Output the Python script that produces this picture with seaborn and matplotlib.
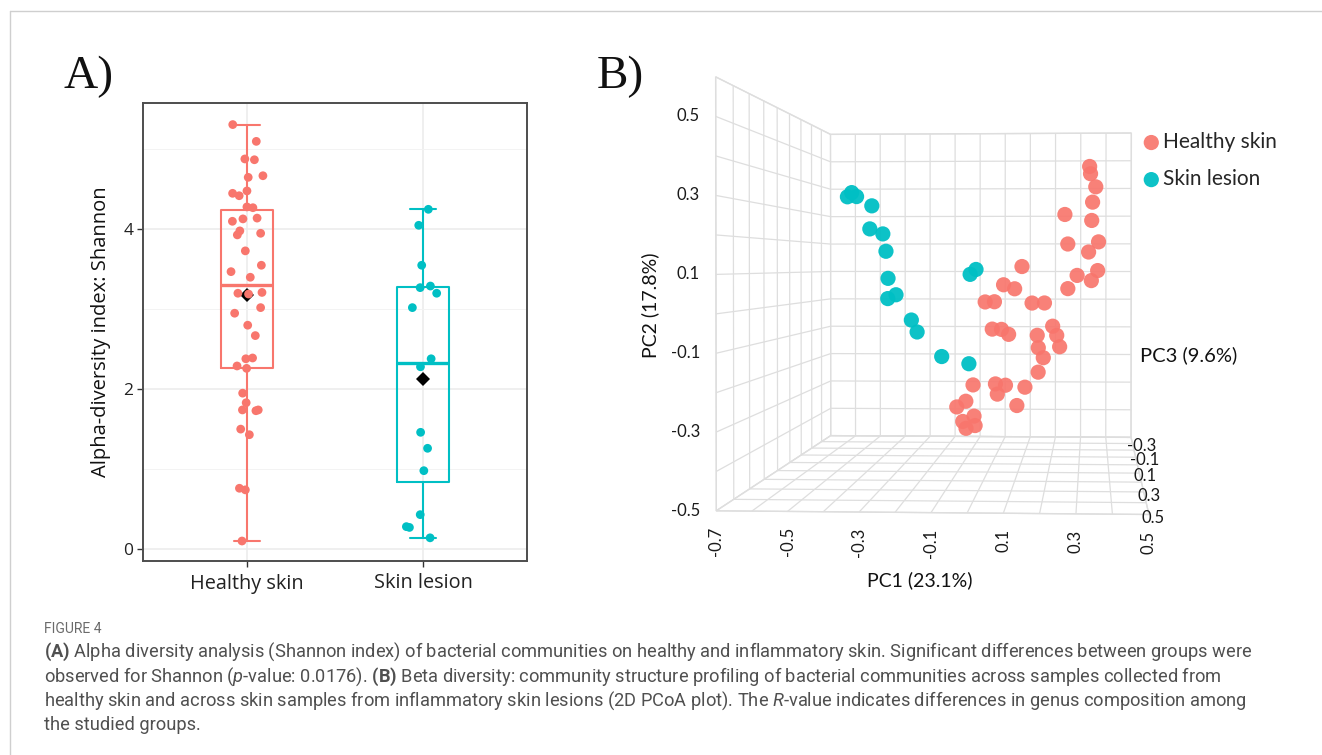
import matplotlib
matplotlib.use("Agg")
import matplotlib.pyplot as plt
from matplotlib.lines import Line2D
from mpl_toolkits.mplot3d import proj3d
import numpy as np
import pandas as pd
import seaborn as sns

W, H = 1322, 755

# ---------------- panel A: Shannon index per sample ----------------
GROUPS = ["Healthy skin", "Skin lesion"]
HEALTHY_SHANNON = [5.31, 5.10, 4.88, 4.87, 4.67, 4.65, 4.48, 4.45, 4.42, 4.28,
                   4.27, 4.14, 4.13, 4.10, 3.98, 3.95, 3.93, 3.73, 3.55, 3.47,
                   3.40, 3.21, 3.20, 3.19, 3.02, 2.95, 2.80, 2.67, 2.39, 2.38,
                   2.29, 2.26, 1.95, 1.83, 1.74, 1.74, 1.73, 1.50, 1.43, 0.76,
                   0.74, 0.10]
LESION_SHANNON = [4.25, 4.05, 3.55, 3.29, 3.27, 3.20, 3.02, 2.38, 2.28, 1.46,
                  1.26, 0.98, 0.43, 0.28, 0.27, 0.14]
Y_TICKS = [0, 2, 4]

# ---------------- panel B: PCoA coordinates ----------------
HEALTHY_PC1 = [0.336, 0.339, 0.356, 0.346, 0.250, 0.343, 0.263, 0.367, 0.333, 0.109,
               0.364, 0.296, 0.047, 0.075, 0.266, 0.342, -0.028, 0.028, 0.143, 0.179,
               0.021, 0.040, 0.054, 0.217, 0.226, 0.232, 0.167, 0.164, 0.175, 0.170,
               -0.056, 0.008, 0.064, 0.026, 0.111, -0.065, -0.111, -0.067, -0.075, -0.049,
               -0.095, 0.101]
HEALTHY_PC2 = [0.425, 0.413, 0.354, 0.316, 0.284, 0.255, 0.188, 0.197, 0.162, 0.119,
               0.106, 0.093, 0.063, 0.048, 0.054, 0.076, 0.006, 0.015, 0.007, 0.003,
               -0.066, -0.074, -0.097, -0.057, -0.092, -0.136, -0.084, -0.130, -0.171, -0.193,
               -0.245, -0.255, -0.232, -0.273, -0.265, -0.280, -0.313, -0.358, -0.340, -0.370,
               -0.397, -0.292]
HEALTHY_PC3 = [0.05, -0.04, 0.14, 0.05, -0.04, 0.14, 0.05, -0.04, 0.14, 0.05,
               -0.04, 0.14, 0.05, -0.04, 0.14, 0.05, -0.04, 0.14, 0.05, -0.04,
               0.14, 0.05, -0.04, 0.14, 0.05, -0.04, 0.14, 0.05, -0.04, 0.14,
               0.05, -0.04, 0.14, 0.05, -0.04, 0.14, 0.05, -0.04, 0.14, 0.05,
               -0.04, 0.14]
LESION_PC1 = [-0.482, -0.497, -0.422, -0.399, -0.433, -0.336, -0.351, -0.369,
              -0.320, -0.317, -0.287, -0.224, -0.162, -0.085, -0.051, -0.046]
LESION_PC2 = [0.334, 0.355, 0.327, 0.306, 0.239, 0.216, 0.166, 0.081,
              0.024, 0.032, -0.052, -0.075, -0.158, -0.191, 0.096, 0.110]
LESION_PC3 = [0.05, -0.04, 0.14, 0.05, -0.04, 0.14, 0.05, -0.04,
              0.14, 0.05, -0.04, 0.14, 0.05, -0.04, 0.14, 0.05]

PC1_GRID = [-0.7, -0.6, -0.5, -0.4, -0.3, -0.2, -0.1, 0.0, 0.1, 0.2, 0.3, 0.4, 0.5]
PC2_GRID = [-0.5, -0.4, -0.3, -0.2, -0.1, 0.0, 0.1, 0.2, 0.3, 0.4, 0.5, 0.6]
PC3_GRID = [-0.4, -0.3, -0.2, -0.1, 0.0, 0.1, 0.2, 0.3, 0.4, 0.5]
PC1_LABELS = [-0.7, -0.5, -0.3, -0.1, 0.1, 0.3, 0.5]
PC2_LABELS = [-0.5, -0.3, -0.1, 0.1, 0.3, 0.5]
PC3_LABELS = [-0.3, -0.1, 0.1, 0.3, 0.5]

CAPTION_LINES = [
    r"$\mathbf{(A)}$ Alpha diversity analysis (Shannon index) of bacterial communities on healthy and inflammatory skin. Significant differences between groups were",
    r"observed for Shannon ($\mathit{p}$-value: 0.0176). $\mathbf{(B)}$ Beta diversity: community structure profiling of bacterial communities across samples collected from",
    r"healthy skin and across skin samples from inflammatory skin lesions (2D PCoA plot). The $\mathit{R}$-value indicates differences in genus composition among",
    "the studied groups.",
]

SALMON = "#F8766D"
TEAL = "#00BFC4"
PALETTE = {GROUPS[0]: SALMON, GROUPS[1]: TEAL}
GRID3D = "#dedede"
A_FONT = "Open Sans"
B_FONT = "Lato"
CAP_FONT = "Roboto"

sns.set_theme(style="white")
plt.rcParams["font.family"] = [A_FONT, "DejaVu Sans"]
plt.rcParams["mathtext.fontset"] = "custom"
plt.rcParams["mathtext.rm"] = CAP_FONT
plt.rcParams["mathtext.it"] = CAP_FONT + ":italic"
plt.rcParams["mathtext.bf"] = CAP_FONT + ":bold"


def fx(px):
    return px / W


def fy(py):
    return 1 - py / H


fig = plt.figure(figsize=(W / 100, H / 100), dpi=100)

# ---------------- panel A ----------------
df_a = pd.DataFrame({
    "group": [GROUPS[0]] * len(HEALTHY_SHANNON) + [GROUPS[1]] * len(LESION_SHANNON),
    "shannon": HEALTHY_SHANNON + LESION_SHANNON,
})

axA = fig.add_axes([fx(143), fy(561), 384 / W, 458 / H])
sns.boxplot(data=df_a, x="group", y="shannon", hue="group", palette=PALETTE,
            fill=False, width=0.3, linewidth=1.5, showfliers=False,
            medianprops={"linewidth": 2.4}, legend=False, ax=axA)
np.random.seed(7)
sns.stripplot(data=df_a, x="group", y="shannon", hue="group", palette=PALETTE,
              jitter=0.095, size=6.3, legend=False, ax=axA, zorder=3)
sns.pointplot(data=df_a, x="group", y="shannon", estimator="mean", errorbar=None,
              color="black", markers="D", linestyles="none", markersize=6.8,
              markeredgewidth=0, ax=axA)

axA.set_xlim(-0.59, 1.59)
axA.set_ylim(-0.15, 5.58)
axA.set_yticks(Y_TICKS)
axA.set_yticks([1, 3, 5], minor=True)
axA.grid(True, which="major", axis="both", color="#EBEBEB", linewidth=1.1)
axA.grid(True, which="minor", axis="y", color="#F3F3F3", linewidth=0.7)
axA.set_axisbelow(True)
axA.tick_params(which="minor", length=0)
axA.tick_params(axis="both", which="major", length=4, width=1, color="#333333",
                labelcolor="#222222", pad=3, bottom=True, left=True)
axA.tick_params(axis="x", labelsize=14.3, pad=5)
axA.tick_params(axis="y", labelsize=12.5)
axA.set_xlabel("")
axA.set_ylabel("Alpha-diversity index: Shannon", fontsize=14.5, color="#111111", labelpad=9)
for sp in axA.spines.values():
    sp.set_color("#4d4d4d")
    sp.set_linewidth(1.4)

# ---------------- panel B (3D PCoA) ----------------
axB = fig.add_axes([fx(674), fy(575), 557 / W, 557 / H], projection="3d",
                   computed_zorder=False)
axB.patch.set_alpha(0)
axB.scatter(HEALTHY_PC1, HEALTHY_PC3, HEALTHY_PC2, s=120, color=SALMON, alpha=0.92,
            depthshade=False, edgecolors="none", label=GROUPS[0])
axB.scatter(LESION_PC1, LESION_PC3, LESION_PC2, s=120, color=TEAL, alpha=0.95,
            depthshade=False, edgecolors="none", label=GROUPS[1])

axB.set_proj_type("persp", focal_length=0.649)
axB.set_box_aspect((1.0, 2.0, 1.006), zoom=1.52)
axB.view_init(elev=0.71, azim=-86.17)
axB.set_xlim(-0.7, 0.5)
axB.set_ylim(0.5, -0.4)
axB.set_zlim(-0.5, 0.6)
axB.set_xticks(PC1_GRID)
axB.set_yticks(PC3_GRID)
axB.set_zticks(PC2_GRID)
axB.set_xlabel("")
axB.set_ylabel("")
axB.set_zlabel("")
for axis in (axB.xaxis, axB.yaxis, axB.zaxis):
    axis.set_major_formatter(plt.NullFormatter())
    axis.set_tick_params(labelbottom=False, bottom=False)
    axis.set_pane_color((1, 1, 1, 1))
    axis.pane.set_edgecolor(GRID3D)
    axis.pane.set_linewidth(1.0)
    axis.line.set_visible(False)
    axis._axinfo["grid"].update(color=GRID3D, linewidth=0.9)
    axis._axinfo["tick"]["inward_factor"] = 0.0
    axis._axinfo["tick"]["outward_factor"] = 0.0
axB.grid(True)

# tick labels: project the 3D anchor through the axes' own projection
proj_m = axB.get_proj()
tick_kw = dict(fontsize=12, family=B_FONT, color="#1a1a1a", transform=axB.transData)


def tick_label(x, y, z, s, **kw):
    px, py, _ = proj3d.proj_transform(x, y, z, proj_m)
    axB.text2D(float(px), float(py), s, **tick_kw, **kw)


for v in PC2_LABELS:
    tick_label(-0.745, 0.5, v, f"{v:.1f}", ha="right", va="center")
for v in PC1_LABELS:
    tick_label(v, 0.5, -0.54, f"{v:.1f}", rotation=90, ha="center", va="top")
for v in PC3_LABELS:
    tick_label(0.48, v, -0.51, f"{v:.1f}", ha="left", va="center")

axB.legend(loc="upper left", bbox_to_anchor=(fx(1144), fy(132)),
           bbox_transform=fig.transFigure, frameon=False, handlelength=0.7,
           handletextpad=0.2, borderpad=0, borderaxespad=0, labelspacing=0.82,
           prop={"family": B_FONT, "size": 15})

fig.text(fx(920), fy(580), "PC1 (23.1%)", ha="center", va="center",
         fontsize=14, family=B_FONT, color="#111111")
fig.text(fx(650), fy(305), "PC2 (17.8%)", ha="center", va="center", rotation=90,
         fontsize=14, family=B_FONT, color="#111111")
fig.text(fx(1140), fy(355), "PC3 (9.6%)", ha="left", va="center",
         fontsize=14.5, family=B_FONT, color="#111111")

# panel letters
fig.text(fx(64), fy(88), "A)", family="Liberation Serif", fontsize=34,
         va="baseline", color="#111111")
fig.text(fx(597), fy(88), "B)", family="Liberation Serif", fontsize=34,
         va="baseline", color="#111111")

# ---------------- caption ----------------
fig.text(fx(44), fy(633), "FIGURE 4", family=CAP_FONT, fontsize=10,
         color="#6b6b6b", va="baseline")
renderer = fig.canvas.get_renderer()
probe = fig.text(fx(44), fy(657), CAPTION_LINES[0], family=CAP_FONT, fontsize=12,
                 color="#505050", va="baseline")
cap_size = 12 * 1203 / probe.get_window_extent(renderer=renderer).width
probe.set_fontsize(cap_size)
for i, line in enumerate(CAPTION_LINES[1:], start=1):
    fig.text(fx(44), fy(657 + 24.5 * i), line, family=CAP_FONT, fontsize=cap_size,
             color="#505050", va="baseline")

# thin page frame
fig.add_artist(Line2D([fx(10), 1], [fy(11), fy(11)], color="#cfcfcf", lw=1))
fig.add_artist(Line2D([fx(10), fx(10)], [fy(11), 0], color="#cfcfcf", lw=1))

fig.savefig("out.png", dpi=100)
